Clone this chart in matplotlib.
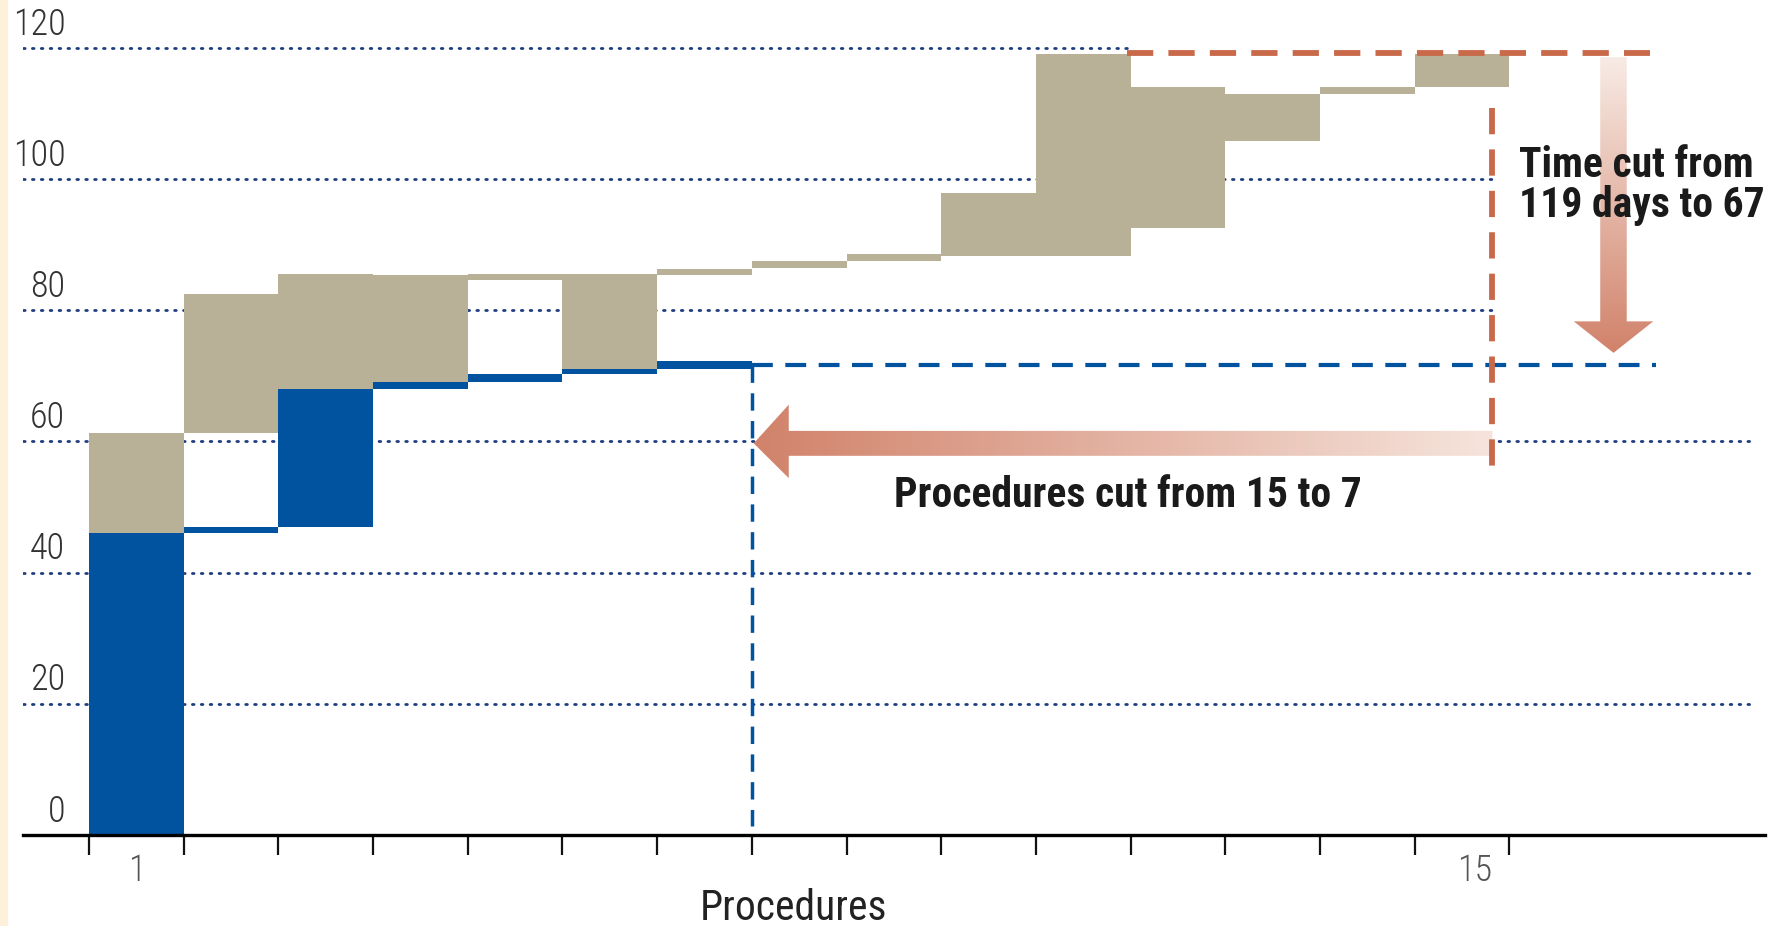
import numpy as np
import matplotlib
matplotlib.use("Agg")
import matplotlib.pyplot as plt
from matplotlib.patches import Polygon, Rectangle
import matplotlib.transforms as mtransforms

plt.rcParams['font.family'] = ['Roboto Condensed', 'Roboto', 'DejaVu Sans']

# data: one step per procedure, (start, end) in days
blue_lo = [0, 46, 47, 68, 69, 70.2, 71]
blue_hi = [46, 47, 68, 69, 70.2, 71, 72.2]
tan_lo = [46, 61.3, 68, 69, 84.6, 71, 85.4, 86.5, 87.5, 88.3, 88.2, 92.6, 105.8, 112.9, 114.1]
tan_hi = [61.3, 82.5, 85.5, 85.3, 85.5, 85.5, 86.3, 87.5, 88.5, 97.8, 119, 114.1, 112.9, 114.1, 119]
y_ticks = [0, 20, 40, 60, 80, 100, 120]
x_labels = {"1": 0.5, "15": 14.63}
old_days, new_days = 119.2, 71.7
old_proc, new_proc = 14.82, 7.0

blue = '#0153a0'
tan = '#b9b197'
rust = '#c8694a'
navy = '#1d3d80'
police = 26

fig = plt.figure(figsize=(17.76, 9.26), dpi=100)
fig.patches.append(Rectangle((0, 0), 0.004, 1, transform=fig.transFigure,
                             color='#fdf1dc', zorder=0))
ax = fig.add_axes([0.0128, 0.0984, 0.981, 0.8853])
ax.set_xlim(-0.7, 17.7)
ax.set_ylim(0, 125)

# gridlines (dotted), some stop at the annotation lines
grid_end = {20: 17.6, 40: 17.6, 60: 17.6, 80: old_proc, 100: old_proc, 120: 10.96}
for y in y_ticks[1:]:
    ax.plot([-0.7, grid_end[y]], [y, y], color=navy, lw=2.0,
            linestyle=(0, (0.6, 2.6)), dash_capstyle='round', zorder=1)
for y in y_ticks:
    ax.text(-0.25, y + 0.8, str(y), ha='right', va='bottom', fontweight='light',
            fontsize=police, color='#333333', zorder=5)

# bars
for i, (lo, hi) in enumerate(zip(tan_lo, tan_hi)):
    ax.bar(i, hi - lo, bottom=lo, width=1.0, align='edge', color=tan, lw=0, zorder=2)
for i, (lo, hi) in enumerate(zip(blue_lo, blue_hi)):
    ax.bar(i, hi - lo, bottom=lo, width=1.0, align='edge', color=blue, lw=0, zorder=3)

# dashed reference lines
ax.plot([new_proc, 16.55], [new_days, new_days], color=blue, lw=3.0,
        linestyle=(0, (5, 3)), zorder=4)
ax.plot([new_proc, new_proc], [new_days, 1.4], color=blue, lw=2.5,
        linestyle=(0, (5, 3)), zorder=4)
ax.plot([10.96, 16.49], [old_days, old_days], color=rust, lw=4.2,
        linestyle=(0, (4.5, 2.6)), zorder=4)
ax.plot([old_proc, old_proc], [110.8, 56.1], color=rust, lw=4.2,
        linestyle=(0, (4.5, 2.6)), zorder=4)


def gradient_arrow(verts, extent, horizontal, c_start, c_end):
    poly = Polygon(verts, closed=True, facecolor='none', edgecolor='none')
    ax.add_patch(poly)
    n = 256
    c0 = np.array(matplotlib.colors.to_rgb(c_start))
    c1 = np.array(matplotlib.colors.to_rgb(c_end))
    t = np.linspace(0, 1, n)
    cols = c0[None, :] * (1 - t[:, None]) + c1[None, :] * t[:, None]
    if horizontal:
        img = cols[None, :, :]
    else:
        img = cols[:, None, :]
    im = ax.imshow(img, extent=extent, origin='lower', aspect='auto', zorder=3.5,
                   interpolation='bilinear')
    im.set_clip_path(poly)


# horizontal arrow: procedures cut
yc = 59.7
gradient_arrow([(old_proc, yc - 1.9), (7.39, yc - 1.9), (7.39, 54.4), (7.02, yc),
                (7.39, 65.6), (7.39, yc + 1.9), (old_proc, yc + 1.9)],
               [7.0, old_proc, 54, 66], True, '#d1826a', '#f6e4dc')

# vertical arrow: time cut
xc = 16.1
gradient_arrow([(xc - 0.14, 118.6), (xc - 0.14, 78.3), (xc - 0.42, 78.3), (xc, 73.5),
                (xc + 0.42, 78.3), (xc + 0.14, 78.3), (xc + 0.14, 118.6)],
               [xc - 0.45, xc + 0.45, 73.5, 118.6], False, '#d1826a', '#f8ebe5')

ax.text(15.1, 105.2, "Time cut from\n119 days to 67", ha='left', va='top',
        fontsize=30, fontweight='bold', color='#1a1a1a', linespacing=0.98, zorder=6)
ax.text(8.5, 51.8, "Procedures cut from 15 to 7", ha='left', va='center',
        fontsize=30, fontweight='bold', color='#1a1a1a', zorder=6)

# axes styling
for s in ['top', 'right', 'left']:
    ax.spines[s].set_visible(False)
ax.spines['bottom'].set_linewidth(2.4)
ax.spines['bottom'].set_zorder(6)
ax.set_yticks([])
ax.set_xticks(range(16))
ax.set_xticklabels([])
ax.tick_params(axis='x', which='major', length=14.5, width=1.6, direction='out', color='#111111')
ax.set_xticks(list(x_labels.values()), minor=True)
ax.set_xticklabels(list(x_labels.keys()), minor=True, fontweight='light')
ax.tick_params(axis='x', which='minor', length=0, pad=13, labelsize=police, labelcolor='#555555')
ax.text(7.44, -0.09, "Procedures", transform=mtransforms.blended_transform_factory(ax.transData, ax.transAxes),
        ha='center', va='center', fontsize=30, color='#222222')
ax.patch.set_alpha(0)

fig.savefig("out.png", dpi=100)
